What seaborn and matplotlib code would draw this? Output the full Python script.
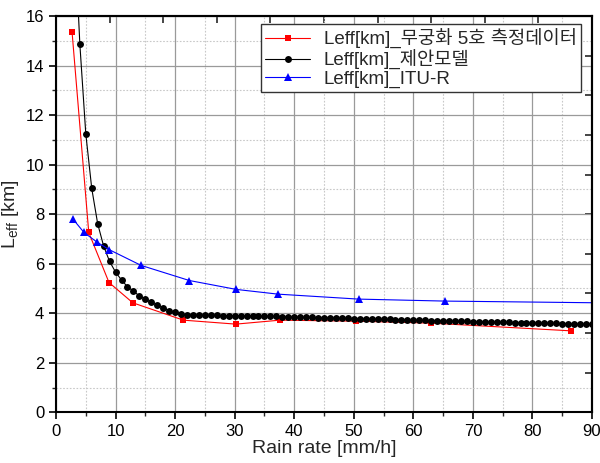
import matplotlib
matplotlib.use("Agg")
import matplotlib.pyplot as plt
import seaborn as sns
import numpy as np
from matplotlib.ticker import MultipleLocator

# ---- data ----
meas_x = [2.7, 5.5, 8.9, 12.9, 21.4, 30.2, 37.6, 50.4, 63.0, 86.4]
meas_y = [15.34, 7.26, 5.24, 4.42, 3.72, 3.56, 3.72, 3.68, 3.60, 3.29]

itu_x = [2.85, 4.7, 6.83, 8.9, 14.3, 22.4, 30.3, 37.3, 50.8, 65.3, 95.0]
itu_y = [7.80, 7.26, 6.88, 6.57, 5.93, 5.32, 4.96, 4.77, 4.57, 4.49, 4.41]

model_x = list(range(3, 91))
model_y = [20.0, 14.88, 11.25, 9.04, 7.61, 6.71, 6.09, 5.66, 5.34, 5.07,
           4.89, 4.70, 4.56, 4.44, 4.32, 4.21, 4.10, 4.03, 3.95, 3.92,
           3.92, 3.92, 3.91, 3.91, 3.91, 3.90, 3.90, 3.90,
           3.90, 3.89, 3.89, 3.88, 3.88, 3.87, 3.87, 3.86, 3.86, 3.85,
           3.84, 3.84, 3.83, 3.82, 3.82, 3.81, 3.80, 3.80, 3.79, 3.78,
           3.78, 3.77, 3.76, 3.76, 3.75, 3.75, 3.74, 3.73, 3.73, 3.72,
           3.71, 3.71, 3.70, 3.70, 3.69, 3.68, 3.68, 3.67, 3.67, 3.66,
           3.65, 3.65, 3.64, 3.64, 3.63, 3.63, 3.62, 3.62, 3.61, 3.61,
           3.60, 3.60, 3.59, 3.59, 3.58, 3.58, 3.57, 3.56, 3.56, 3.55]

labels = ["Leff[km]_무궁화 5호 측정데이터", "Leff[km]_제안모델", "Leff[km]_ITU-R"]
x_label = "Rain rate [mm/h]"
y_label = r"L$_{\mathrm{eff}}$ [km]"

# ---- style ----
sns.set_style("ticks")
plt.rcParams['font.family'] = ['Liberation Sans', 'Noto Sans CJK KR', 'DejaVu Sans']
plt.rcParams['mathtext.fontset'] = 'custom'
plt.rcParams['mathtext.rm'] = 'Liberation Sans'
plt.rcParams['mathtext.it'] = 'Liberation Sans'

fig = plt.figure(figsize=(6.0, 4.63), dpi=100)
ax = fig.add_axes([56/600, 1-412.3/463, 536/600, 396.3/463])

ax.set_axisbelow(True)
ax.xaxis.set_major_locator(MultipleLocator(10))
ax.xaxis.set_minor_locator(MultipleLocator(5))
ax.yaxis.set_major_locator(MultipleLocator(2))
ax.yaxis.set_minor_locator(MultipleLocator(1))
ax.grid(which='major', color='#9a9a9a', linewidth=0.9, linestyle='-')
ax.grid(which='minor', color='#c8c8c8', linewidth=0.8, linestyle=(0, (1.5, 1.5)))

sns.lineplot(x=meas_x, y=meas_y, ax=ax, color='#ff0000', marker='s', markersize=4.6,
             markeredgewidth=0, linewidth=0.8, label=labels[0], sort=False)
sns.lineplot(x=model_x, y=model_y, ax=ax, color='black', marker='o', markersize=5.0,
             markeredgewidth=0, linewidth=0.8, label=labels[1], sort=False)
sns.lineplot(x=itu_x, y=itu_y, ax=ax, color='#0000ff', marker='^', markersize=5.6,
             markeredgewidth=0, linewidth=0.8, label=labels[2], sort=False)

ax.set_xlim(0, 90)
ax.set_ylim(0, 16)
ax.set_xlabel(x_label, fontsize=14, labelpad=1)
ax.set_ylabel(y_label, fontsize=14, labelpad=3)

for s in ax.spines.values():
    s.set_linewidth(1.5)
    s.set_color('black')
ax.tick_params(which='major', direction='out', length=5, width=1.2, labelsize=12, colors='black')
ax.tick_params(which='minor', direction='out', length=3, width=1.0)

# top / right axes (inward ticks, no labels)
top = ax.secondary_xaxis('top')
top.set_xticks(np.arange(0, 91, 9))
top.tick_params(direction='in', length=5, width=1.2, labeltop=False)
top.spines['top'].set_linewidth(1.5)
right = ax.secondary_yaxis('right')
right.set_yticks(np.arange(0, 16.01, 1.6))
right.tick_params(direction='in', length=5, width=1.2, labelright=False)
right.spines['right'].set_linewidth(1.5)

leg = ax.legend(loc='upper right', bbox_to_anchor=(0.98, 0.98), borderaxespad=0,
                fontsize=13.5, frameon=True, fancybox=False, framealpha=1,
                edgecolor='#333333', handlelength=2.4, handletextpad=0.7,
                labelspacing=0.04, borderpad=0.25)
leg.get_frame().set_linewidth(1.0)

fig.savefig("out.png", dpi=100)
